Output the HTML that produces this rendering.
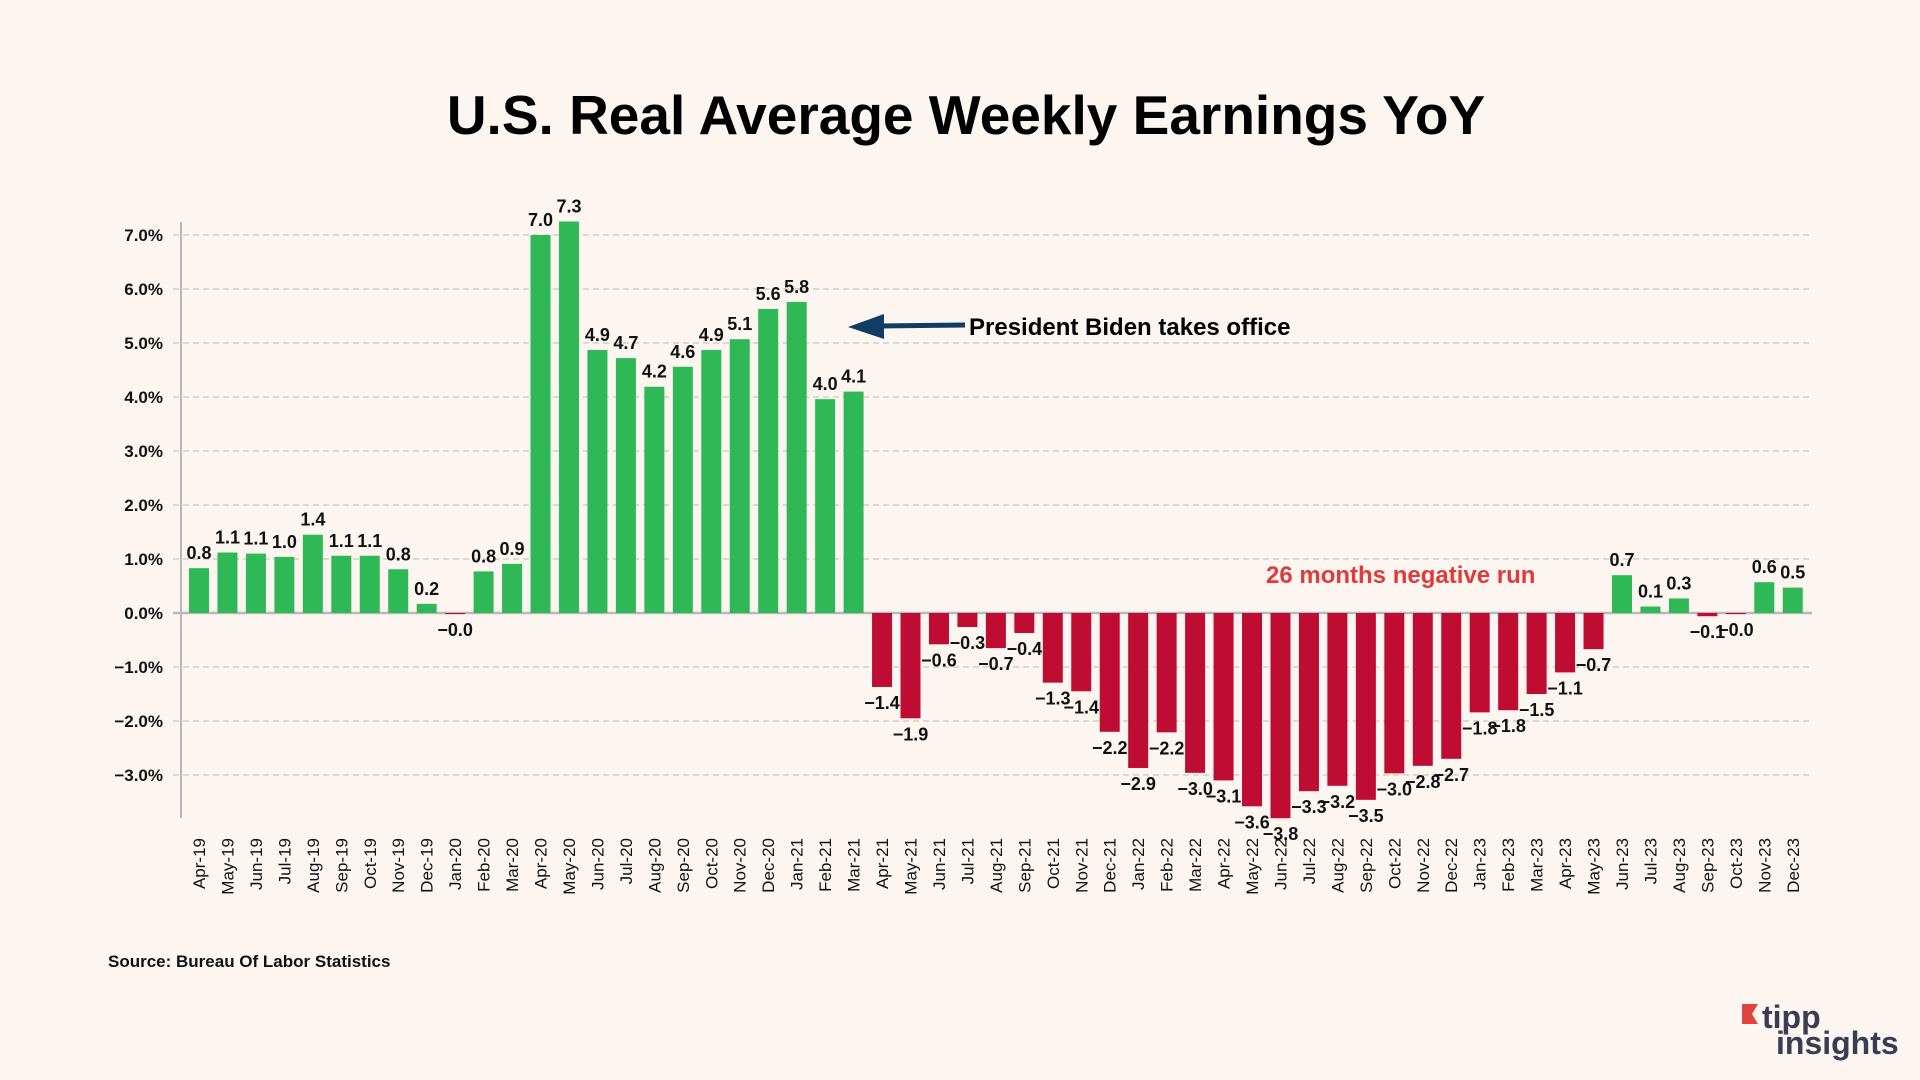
<!DOCTYPE html>
<html><head><meta charset="utf-8"><style>
body{margin:0;background:#fdf6f0;}
svg{display:block;font-family:"Liberation Sans",sans-serif;}
</style></head><body>
<svg id="chart" width="1920" height="1080" viewBox="0 0 1920 1080" xmlns="http://www.w3.org/2000/svg">
<rect width="1920" height="1080" fill="#fdf6f0"/>
<text x="966" y="134" text-anchor="middle" font-size="55" font-weight="bold" fill="#000">U.S. Real Average Weekly Earnings YoY</text>
<g id="grid"></g><g id="bars"></g><g id="labels"></g><g id="xlabels"></g>
<line x1="181" y1="222" x2="181" y2="818" stroke="#b8b8bd" stroke-width="2"/>
<g>
<line x1="965" y1="325" x2="880" y2="326" stroke="#103c66" stroke-width="5"/>
<polygon points="848,327 884,314 884,339" fill="#103c66"/>
<text x="969" y="335" font-size="24" font-weight="bold" fill="#000">President Biden takes office</text>
</g>
<text x="1266" y="583" font-size="24" font-weight="bold" fill="#e03a3a">26 months negative run</text>
<text x="108" y="967" font-size="17" font-weight="bold" fill="#111">Source: Bureau Of Labor Statistics</text>
<g>
<polygon points="1742,1004 1758,1004 1752,1014 1758,1024 1742,1024" fill="#e0453b"/>
<text x="1762" y="1028" font-size="32" font-weight="bold" fill="#383c55">tipp</text>
<text x="1776" y="1054" font-size="32" font-weight="bold" fill="#383c55">insights</text>
</g>
</svg>
<script>
const categories=["Apr-19","May-19","Jun-19","Jul-19","Aug-19","Sep-19","Oct-19","Nov-19","Dec-19","Jan-20","Feb-20","Mar-20","Apr-20","May-20","Jun-20","Jul-20","Aug-20","Sep-20","Oct-20","Nov-20","Dec-20","Jan-21","Feb-21","Mar-21","Apr-21","May-21","Jun-21","Jul-21","Aug-21","Sep-21","Oct-21","Nov-21","Dec-21","Jan-22","Feb-22","Mar-22","Apr-22","May-22","Jun-22","Jul-22","Aug-22","Sep-22","Oct-22","Nov-22","Dec-22","Jan-23","Feb-23","Mar-23","Apr-23","May-23","Jun-23","Jul-23","Aug-23","Sep-23","Oct-23","Nov-23","Dec-23"];
const values=[0.83,1.12,1.1,1.04,1.45,1.06,1.06,0.81,0.17,-0.02,0.77,0.91,7.0,7.25,4.87,4.72,4.19,4.56,4.87,5.07,5.63,5.76,3.96,4.1,-1.37,-1.95,-0.58,-0.26,-0.65,-0.37,-1.29,-1.45,-2.2,-2.87,-2.21,-2.96,-3.1,-3.58,-3.8,-3.3,-3.2,-3.46,-2.97,-2.83,-2.7,-1.84,-1.8,-1.5,-1.1,-0.67,0.7,0.12,0.27,-0.06,-0.02,0.57,0.47];
const yTicks=[-3,-2,-1,0,1,2,3,4,5,6,7];
const NS="http://www.w3.org/2000/svg";
const y=v=>613-54*v;
const x=i=>199+i*28.46;
function mk(tag,attrs,parent,txt){const e=document.createElementNS(NS,tag);for(const k in attrs)e.setAttribute(k,attrs[k]);if(txt!==undefined)e.textContent=txt;document.getElementById(parent).appendChild(e);return e;}
yTicks.forEach(t=>{
  const g=mk("line",{x1:173,x2:1812,y1:y(t),y2:y(t),stroke:t===0?"#b8b8bd":"#c9c6c4","stroke-width":t===0?2.5:1.3,"stroke-dasharray":t===0?"":"6,4"},"grid");
  
  
  const lb=mk("text",{x:163,y:y(t)+6,"text-anchor":"end","font-size":17,"font-weight":"bold",fill:"#111"},"grid",(t<0?"\u2212"+Math.abs(t).toFixed(1):t.toFixed(1))+"%");
  
  
});
values.forEach((v,i)=>{
  const top=Math.min(y(v),y(0)),h=Math.max(Math.abs(y(v)-y(0)),1);
  const b=mk("rect",{x:x(i)-10,y:top,width:20,height:h,fill:v>=0?"#2fb856":"#be0c33"},"bars");
  
  
  const txt=(v<0?"\u2212":"")+Math.abs(v).toFixed(1);
  const ly=v>=0?y(v)-9:y(v)+22;
  const l=mk("text",{x:x(i),y:ly,"text-anchor":"middle","font-size":18,"font-weight":"bold",fill:"#111"},"labels",txt);
  
  
  const c=mk("text",{transform:`translate(${x(i)+6},838) rotate(-90)`,"text-anchor":"end","font-size":17,fill:"#111"},"xlabels",categories[i]);
  
  
});
</script>
</body></html>
